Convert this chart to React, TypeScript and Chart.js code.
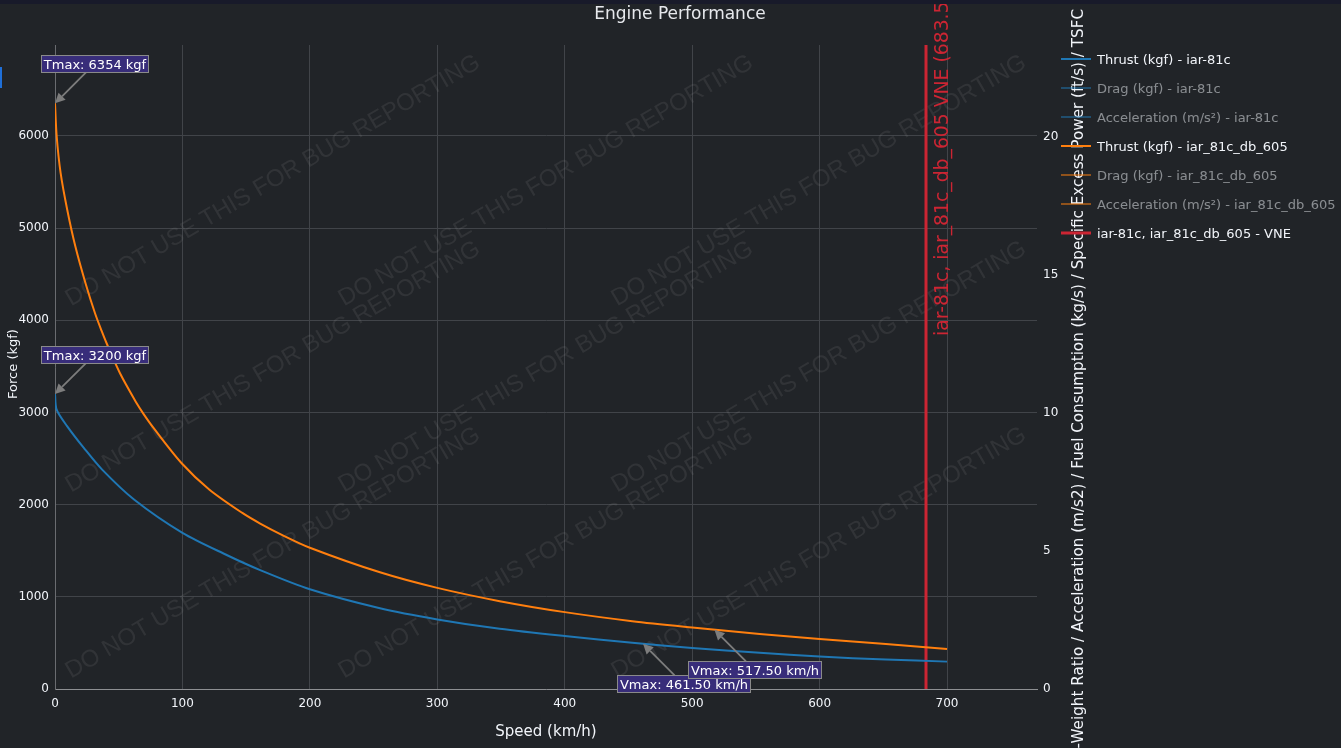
import React, { useEffect, useRef } from "react";
import { Chart, registerables } from "chart.js";

Chart.register(...registerables);

// ---------- data ----------
const TITLE = "Engine Performance";
const X_TITLE = "Speed (km/h)";
const Y_TITLE = "Force (kgf)";
const Y2_TITLE =
  "Thrust-Weight Ratio / Acceleration (m/s2) / Fuel Consumption (kg/s) / Specific Excess Power (ft/s) / TSFC";

const X_RANGE = [0, 770.6];
const Y_RANGE = [0, 6987];
const Y2_RANGE = [0, 23.33];
const X_TICKS = [0, 100, 200, 300, 400, 500, 600, 700];
const Y_TICKS = [0, 1000, 2000, 3000, 4000, 5000, 6000];
const Y2_TICKS = [0, 5, 10, 15, 20];

// iar-81c thrust (kgf) vs speed (km/h)
const speedA = [0, 1.3, 9.6, 22.6, 37, 62, 100, 134.7, 161, 200, 255, 300, 349, 400, 453, 500, 553, 600, 652, 700];
const thrustA = [3200, 3030, 2850, 2616, 2380, 2056, 1694, 1454, 1290, 1082, 876, 755, 653, 574, 502, 445, 393, 352, 320, 297];

// iar_81c_db_605 thrust (kgf) vs speed (km/h)
const speedB = [0, 1.3, 4.4, 9.6, 16, 24, 31.4, 36.6, 40.5, 51, 64.1, 69.3, 77, 99.4, 121, 147, 161, 178, 200, 255, 300, 349, 400, 453, 500, 553, 600, 652, 700];
const thrustB = [6354, 6000, 5600, 5200, 4800, 4400, 4077, 3885, 3751, 3426, 3100, 2988, 2838, 2449, 2165, 1910, 1795, 1673, 1533, 1266, 1097, 953, 834, 736, 668, 598, 542, 487, 434];

const VNE = 683.5;
const VNE_LABEL = "iar-81c, iar_81c_db_605 VNE (683.5 km/h)";

const LEGEND_LABELS = [
  "Thrust (kgf) - iar-81c",
  "Drag (kgf) - iar-81c",
  "Acceleration (m/s²) - iar-81c",
  "Thrust (kgf) - iar_81c_db_605",
  "Drag (kgf) - iar_81c_db_605",
  "Acceleration (m/s²) - iar_81c_db_605",
  "iar-81c, iar_81c_db_605 - VNE",
];

const ANN_X = [0, 0, 461.5, 517.5];
const ANN_Y = [6354, 3200, 490, 642];
const ANN_TEXT = ["Tmax: 6354 kgf", "Tmax: 3200 kgf", "Vmax: 461.50 km/h", "Vmax: 517.50 km/h"];

const WATERMARK = "DO NOT USE THIS FOR BUG REPORTING";

// ---------- style ----------
const BG = "#212428";
const GRID = "#414449";
const AXIS_X = "#8d8f92";
const AXIS_Y = "#6a6c70";
const TEXT = "#f2f5fa";
const BLUE = "#1f77b4";
const ORANGE = "#ff7f0e";
const RED = "rgb(204,37,51)";
const FONT = '"DejaVu Sans", Verdana, sans-serif';
const ANN_OFF_X = [40, 40, 40, 40];
const ANN_OFF_Y = [-40, -40, 40, 40];

function pts(xs: number[], ys: number[]) {
  return xs.map((x, i) => ({ x, y: ys[i] }));
}

function fixedTicks(values: number[]) {
  return (s: any) => {
    s.ticks = values.map((v) => ({ value: v }));
  };
}

const bgPlugin = {
  id: "bgfill",
  beforeDraw(chart: any) {
    const { ctx, width, height } = chart;
    ctx.save();
    ctx.fillStyle = BG;
    ctx.fillRect(0, 0, width, height);
    ctx.restore();
  },
};

const watermarkPlugin = {
  id: "watermark",
  beforeDatasetsDraw(chart: any) {
    const { ctx, chartArea: ca } = chart;
    ctx.save();
    ctx.font = '24px "Liberation Sans", Arial, sans-serif';
    ctx.fillStyle = "rgba(150,150,150,0.14)";
    ctx.textAlign = "center";
    ctx.textBaseline = "middle";
    const fxs = [0.222, 0.5, 0.778];
    const fys = [0.211, 0.5, 0.789];
    for (const fx of fxs) {
      for (const fy of fys) {
        ctx.save();
        ctx.translate(ca.left + fx * (ca.right - ca.left), ca.top + fy * (ca.bottom - ca.top));
        ctx.rotate((-30.3 * Math.PI) / 180);
        ctx.fillText(WATERMARK, 0, 0);
        ctx.restore();
      }
    }
    ctx.restore();
  },
};

const overlayPlugin = {
  id: "overlay",
  afterDatasetsDraw(chart: any) {
    const { ctx } = chart;
    const xs = chart.scales.x;
    const ys = chart.scales.y;

    // VNE label
    ctx.save();
    const vx = xs.getPixelForValue(VNE);
    ctx.translate(vx + 22, 336);
    ctx.rotate(-Math.PI / 2);
    ctx.font = `18.8px ${FONT}`;
    ctx.fillStyle = RED;
    ctx.textAlign = "left";
    ctx.textBaseline = "alphabetic";
    ctx.fillText(VNE_LABEL, 0, 0);
    ctx.restore();

    // annotations
    ANN_X.forEach((ax, i) => {
      const px = xs.getPixelForValue(ax);
      const py = ys.getPixelForValue(ANN_Y[i]);
      const cx = px + ANN_OFF_X[i];
      const cy = py + ANN_OFF_Y[i];
      ctx.save();
      ctx.font = `13px ${FONT}`;
      const tw = ctx.measureText(ANN_TEXT[i]).width;
      const bw = tw + 5;
      const bh = 17;
      const dx = px - cx;
      const dy = py - cy;
      const tx = dx !== 0 ? Math.abs(bw / 2 / dx) : Infinity;
      const ty = dy !== 0 ? Math.abs(bh / 2 / dy) : Infinity;
      const t = Math.min(tx, ty);
      const sx = cx + dx * t;
      const sy = cy + dy * t;
      const len = Math.hypot(px - sx, py - sy);
      const ux = (px - sx) / len;
      const uy = (py - sy) / len;
      const headLen = 10;
      const headW = 5;
      const bx = px - ux * headLen;
      const by = py - uy * headLen;
      ctx.strokeStyle = "#7d7d7d";
      ctx.fillStyle = "#7d7d7d";
      ctx.lineWidth = 1.8;
      ctx.beginPath();
      ctx.moveTo(sx, sy);
      ctx.lineTo(bx, by);
      ctx.stroke();
      ctx.beginPath();
      ctx.moveTo(px, py);
      ctx.lineTo(bx - uy * headW, by + ux * headW);
      ctx.lineTo(bx + uy * headW, by - ux * headW);
      ctx.closePath();
      ctx.fill();
      // box
      const left = Math.round(cx - bw / 2) + 0.5;
      const top = Math.round(cy - bh / 2) + 0.5;
      ctx.fillStyle = "rgb(56,45,122)";
      ctx.fillRect(left, top, Math.round(bw), bh);
      ctx.strokeStyle = "#8a8a8a";
      ctx.lineWidth = 1;
      ctx.strokeRect(left, top, Math.round(bw), bh);
      ctx.fillStyle = "#ffffff";
      ctx.textAlign = "center";
      ctx.textBaseline = "alphabetic";
      ctx.fillText(ANN_TEXT[i], left + Math.round(bw) / 2, top + bh / 2 + 5);
      ctx.restore();
    });
  },
  afterDraw(chart: any) {
    const { ctx, chartArea: ca } = chart;
    ctx.save();
    // title
    ctx.fillStyle = "#e6e8ec";
    ctx.font = `17px ${FONT}`;
    ctx.textAlign = "center";
    ctx.textBaseline = "middle";
    ctx.fillText(TITLE, 680, 15);

    // x title
    ctx.fillStyle = TEXT;
    ctx.font = `15px ${FONT}`;
    ctx.fillText(X_TITLE, (ca.left + ca.right) / 2, 732);

    // left y title
    ctx.save();
    ctx.translate(14, 364);
    ctx.rotate(-Math.PI / 2);
    ctx.font = `13px ${FONT}`;
    ctx.textAlign = "center";
    ctx.textBaseline = "middle";
    ctx.fillText(Y_TITLE, 0, 0);
    ctx.restore();

    // right y title
    ctx.save();
    ctx.translate(1079, 9);
    ctx.rotate(-Math.PI / 2);
    ctx.font = `15.2px ${FONT}`;
    ctx.textAlign = "right";
    ctx.textBaseline = "middle";
    ctx.fillText(Y2_TITLE, 0, 0);
    ctx.restore();

    // legend
    chart.data.datasets.forEach((ds: any, i: number) => {
      const y = 59 + i * 29;
      const vis = chart.isDatasetVisible(i);
      ctx.globalAlpha = vis ? 1 : 0.5;
      ctx.strokeStyle = ds.borderColor;
      ctx.lineWidth = ds.borderWidth;
      ctx.beginPath();
      ctx.moveTo(1061, y);
      ctx.lineTo(1091, y);
      ctx.stroke();
      ctx.fillStyle = TEXT;
      ctx.font = `13px ${FONT}`;
      ctx.textAlign = "left";
      ctx.textBaseline = "alphabetic";
      ctx.fillText(ds.label, 1097, y + 5);
    });
    ctx.restore();
  },
};

export default function App() {
  const canvasRef = useRef<HTMLCanvasElement | null>(null);

  useEffect(() => {
    if (!canvasRef.current) return;
    const curve = { tension: 0.3, borderWidth: 2 };
    const chart = new Chart(canvasRef.current, {
      type: "line",
      data: {
        datasets: [
          { ...curve, label: LEGEND_LABELS[0], data: pts(speedA, thrustA), borderColor: BLUE, yAxisID: "y" },
          { ...curve, label: LEGEND_LABELS[1], data: [], borderColor: BLUE, yAxisID: "y", hidden: true },
          { ...curve, label: LEGEND_LABELS[2], data: [], borderColor: BLUE, yAxisID: "y1", hidden: true },
          { ...curve, label: LEGEND_LABELS[3], data: pts(speedB, thrustB), borderColor: ORANGE, yAxisID: "y" },
          { ...curve, label: LEGEND_LABELS[4], data: [], borderColor: ORANGE, yAxisID: "y", hidden: true },
          { ...curve, label: LEGEND_LABELS[5], data: [], borderColor: ORANGE, yAxisID: "y1", hidden: true },
          {
            label: LEGEND_LABELS[6],
            data: [
              { x: VNE, y: Y_RANGE[0] },
              { x: VNE, y: Y_RANGE[1] },
            ],
            borderColor: RED,
            borderWidth: 3,
            tension: 0,
            yAxisID: "y",
          },
        ],
      } as any,
      options: {
        animation: false,
        responsive: true,
        maintainAspectRatio: false,
        devicePixelRatio: 1,
        layout: { padding: { top: 45, left: 0, right: 0, bottom: 0 } },
        plugins: {
          legend: { display: false },
          tooltip: { enabled: false },
          title: { display: false },
        },
        elements: {
          point: { radius: 0, hoverRadius: 0 },
          line: { borderJoinStyle: "round", fill: false },
        },
        scales: {
          x: {
            type: "linear",
            min: X_RANGE[0],
            max: X_RANGE[1],
            grid: { color: GRID, drawTicks: false },
            border: { color: AXIS_X, width: 1 },
            afterBuildTicks: fixedTicks(X_TICKS),
            ticks: {
              color: TEXT,
              font: { family: FONT, size: 12 },
              padding: 8,
              maxRotation: 0,
              autoSkip: false,
              callback: (v: any) => String(v),
            },
            afterFit: (s: any) => {
              s.height = 59;
            },
          },
          y: {
            type: "linear",
            position: "left",
            min: Y_RANGE[0],
            max: Y_RANGE[1],
            grid: { color: GRID, drawTicks: false },
            border: { color: AXIS_Y, width: 1 },
            afterBuildTicks: fixedTicks(Y_TICKS),
            ticks: {
              color: TEXT,
              font: { family: FONT, size: 12 },
              padding: 6,
              autoSkip: false,
              callback: (v: any) => String(v),
            },
            afterFit: (s: any) => {
              s.width = 55;
            },
          },
          y1: {
            type: "linear",
            position: "right",
            min: Y2_RANGE[0],
            max: Y2_RANGE[1],
            grid: { display: false, drawTicks: false },
            border: { display: false },
            afterBuildTicks: fixedTicks(Y2_TICKS),
            ticks: {
              color: TEXT,
              font: { family: FONT, size: 12 },
              padding: 6,
              autoSkip: false,
              callback: (v: any) => String(v),
            },
            afterFit: (s: any) => {
              s.width = 304;
            },
          },
        },
      } as any,
      plugins: [bgPlugin, watermarkPlugin, overlayPlugin],
    });
    return () => chart.destroy();
  }, []);

  return (
    <div
      style={{
        position: "fixed",
        left: 0,
        top: 0,
        width: 1341,
        height: 748,
        background: BG,
        overflow: "hidden",
      }}
    >
      <canvas ref={canvasRef} />
      <div style={{ position: "absolute", left: 0, top: 0, width: 1341, height: 4, background: "#181a2a" }} />
      <div style={{ position: "absolute", left: 0, top: 67, width: 2, height: 21, background: "#1f6fd8" }} />
    </div>
  );
}
